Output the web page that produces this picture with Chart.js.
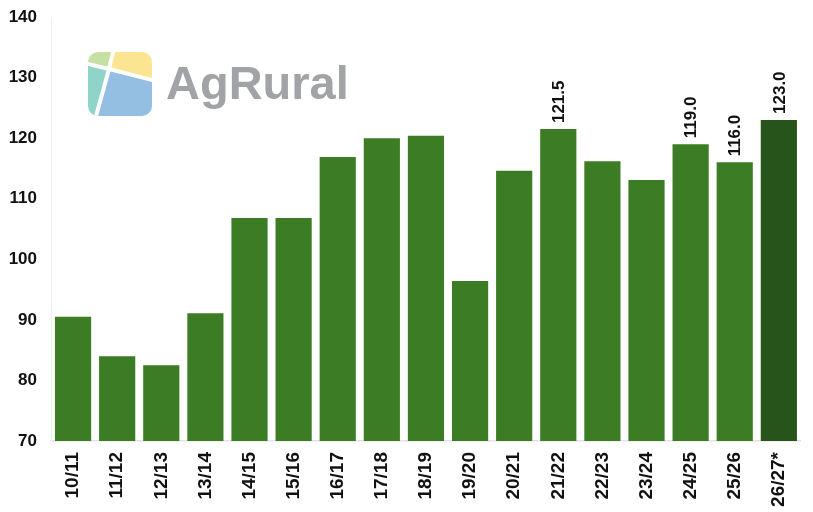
<!DOCTYPE html>
<html>
<head>
<meta charset="utf-8">
<script src="https://cdn.jsdelivr.net/npm/chart.js@4/dist/chart.umd.min.js"></script>
<style>
  html, body { margin: 0; padding: 0; background: #fff; }
  #wrap { width: 813px; height: 512px; position: relative; }
</style>
</head>
<body>
<div id="wrap"><canvas id="chart"></canvas></div>
<script>
// safras e estimativas (milhões de t)
const seasons = ['10/11', '11/12', '12/13', '13/14', '14/15', '15/16', '16/17', '17/18', '18/19',
  '19/20', '20/21', '21/22', '22/23', '23/24', '24/25', '25/26', '26/27*'];
const production = [90.5, 84.0, 82.5, 91.1, 106.8, 106.8, 116.9, 120.0, 120.4,
  96.4, 114.6, 121.5, 116.2, 113.1, 119.0, 116.0, 123.0];
const labeledSeasons = ['21/22', '24/25', '25/26', '26/27*'];
const yTicks = [70, 80, 90, 100, 110, 120, 130, 140];

const barGreen = '#3b7c24';
const barDark = '#27541a';
const font = 'Liberation Sans, Arial, sans-serif';
const narrow = 'Liberation Sans Narrow, Arial Narrow, sans-serif';

// rótulos de valor verticais acima das barras
const valueLabels = {
  id: 'valueLabels',
  afterDatasetsDraw(chart) {
    const { ctx } = chart;
    const meta = chart.getDatasetMeta(0);
    ctx.save();
    ctx.font = 'bold 17px ' + font;
    ctx.fillStyle = '#111';
    ctx.textAlign = 'left';
    ctx.textBaseline = 'middle';
    meta.data.forEach((bar, i) => {
      if (!labeledSeasons.includes(seasons[i])) return;
      ctx.save();
      ctx.translate(bar.x, bar.y - 6);
      ctx.rotate(-Math.PI / 2);
      ctx.fillText(production[i].toFixed(1), 0, 1);
      ctx.restore();
    });
    ctx.restore();
  }
};

// logo AgRural
const logo = {
  id: 'logo',
  afterDraw(chart) {
    const { ctx } = chart;
    ctx.save();
    ctx.beginPath();
    ctx.roundRect(88, 52, 64, 64, 10);
    ctx.clip();
    const c = [109, 69];
    const pieces = [
      ['#c6e0a4', [[88, 52], [113, 52], c, [88, 64]]],
      ['#fbe593', [[113, 52], [152, 52], [152, 80], c]],
      ['#8fd3c9', [[88, 64], c, [96, 116], [88, 116]]],
      ['#94bfe2', [c, [152, 80], [152, 116], [96, 116]]]
    ];
    pieces.forEach(([col, pts]) => {
      ctx.beginPath();
      pts.forEach((p, k) => (k ? ctx.lineTo(p[0], p[1]) : ctx.moveTo(p[0], p[1])));
      ctx.closePath();
      ctx.fillStyle = col;
      ctx.fill();
    });
    ctx.strokeStyle = '#fff';
    ctx.lineWidth = 4;
    ctx.beginPath();
    ctx.moveTo(86, 63.5); ctx.lineTo(c[0], c[1]); ctx.lineTo(154, 80.5);
    ctx.moveTo(113.5, 50); ctx.lineTo(c[0], c[1]); ctx.lineTo(95.5, 118);
    ctx.stroke();
    ctx.restore();

    ctx.save();
    ctx.font = 'bold 47px ' + font;
    ctx.fillStyle = '#a2a3a6';
    ctx.textBaseline = 'alphabetic';
    ctx.fillText('AgRural', 166, 99);
    ctx.restore();
  }
};

new Chart(document.getElementById('chart'), {
  type: 'bar',
  data: {
    labels: seasons,
    datasets: [{
      data: production,
      backgroundColor: seasons.map((s, i) => (i === seasons.length - 1 ? barDark : barGreen)),
      categoryPercentage: 0.82,
      barPercentage: 1.0
    }]
  },
  options: {
    responsive: true,
    maintainAspectRatio: false,
    animation: false,
    layout: { padding: { top: 17, right: 12, bottom: 0, left: 0 } },
    plugins: {
      legend: { display: false },
      tooltip: { enabled: false }
    },
    scales: {
      x: {
        afterFit: (axis) => { axis.height = 71; },
        grid: { display: false, drawTicks: false },
        border: { display: true, color: '#e3e3e3', width: 1.5 },
        ticks: {
          color: '#111',
          font: { family: narrow, size: 19, weight: 'bold' },
          minRotation: 90,
          maxRotation: 90,
          padding: 11,
          autoSkip: false
        }
      },
      y: {
        min: 70,
        max: 140,
        afterBuildTicks: (axis) => { axis.ticks = yTicks.map(v => ({ value: v })); },
        afterFit: (axis) => {
          axis.width = 51;
          axis.paddingTop = 0;
          axis.paddingBottom = 0;
        },
        grid: { display: false, drawTicks: false },
        border: { display: true, color: '#f0f0f0', width: 1 },
        ticks: {
          color: '#111',
          font: { family: font, size: 17, weight: 'bold' },
          padding: 14
        }
      }
    }
  },
  plugins: [valueLabels, logo]
});
</script>
</body>
</html>
